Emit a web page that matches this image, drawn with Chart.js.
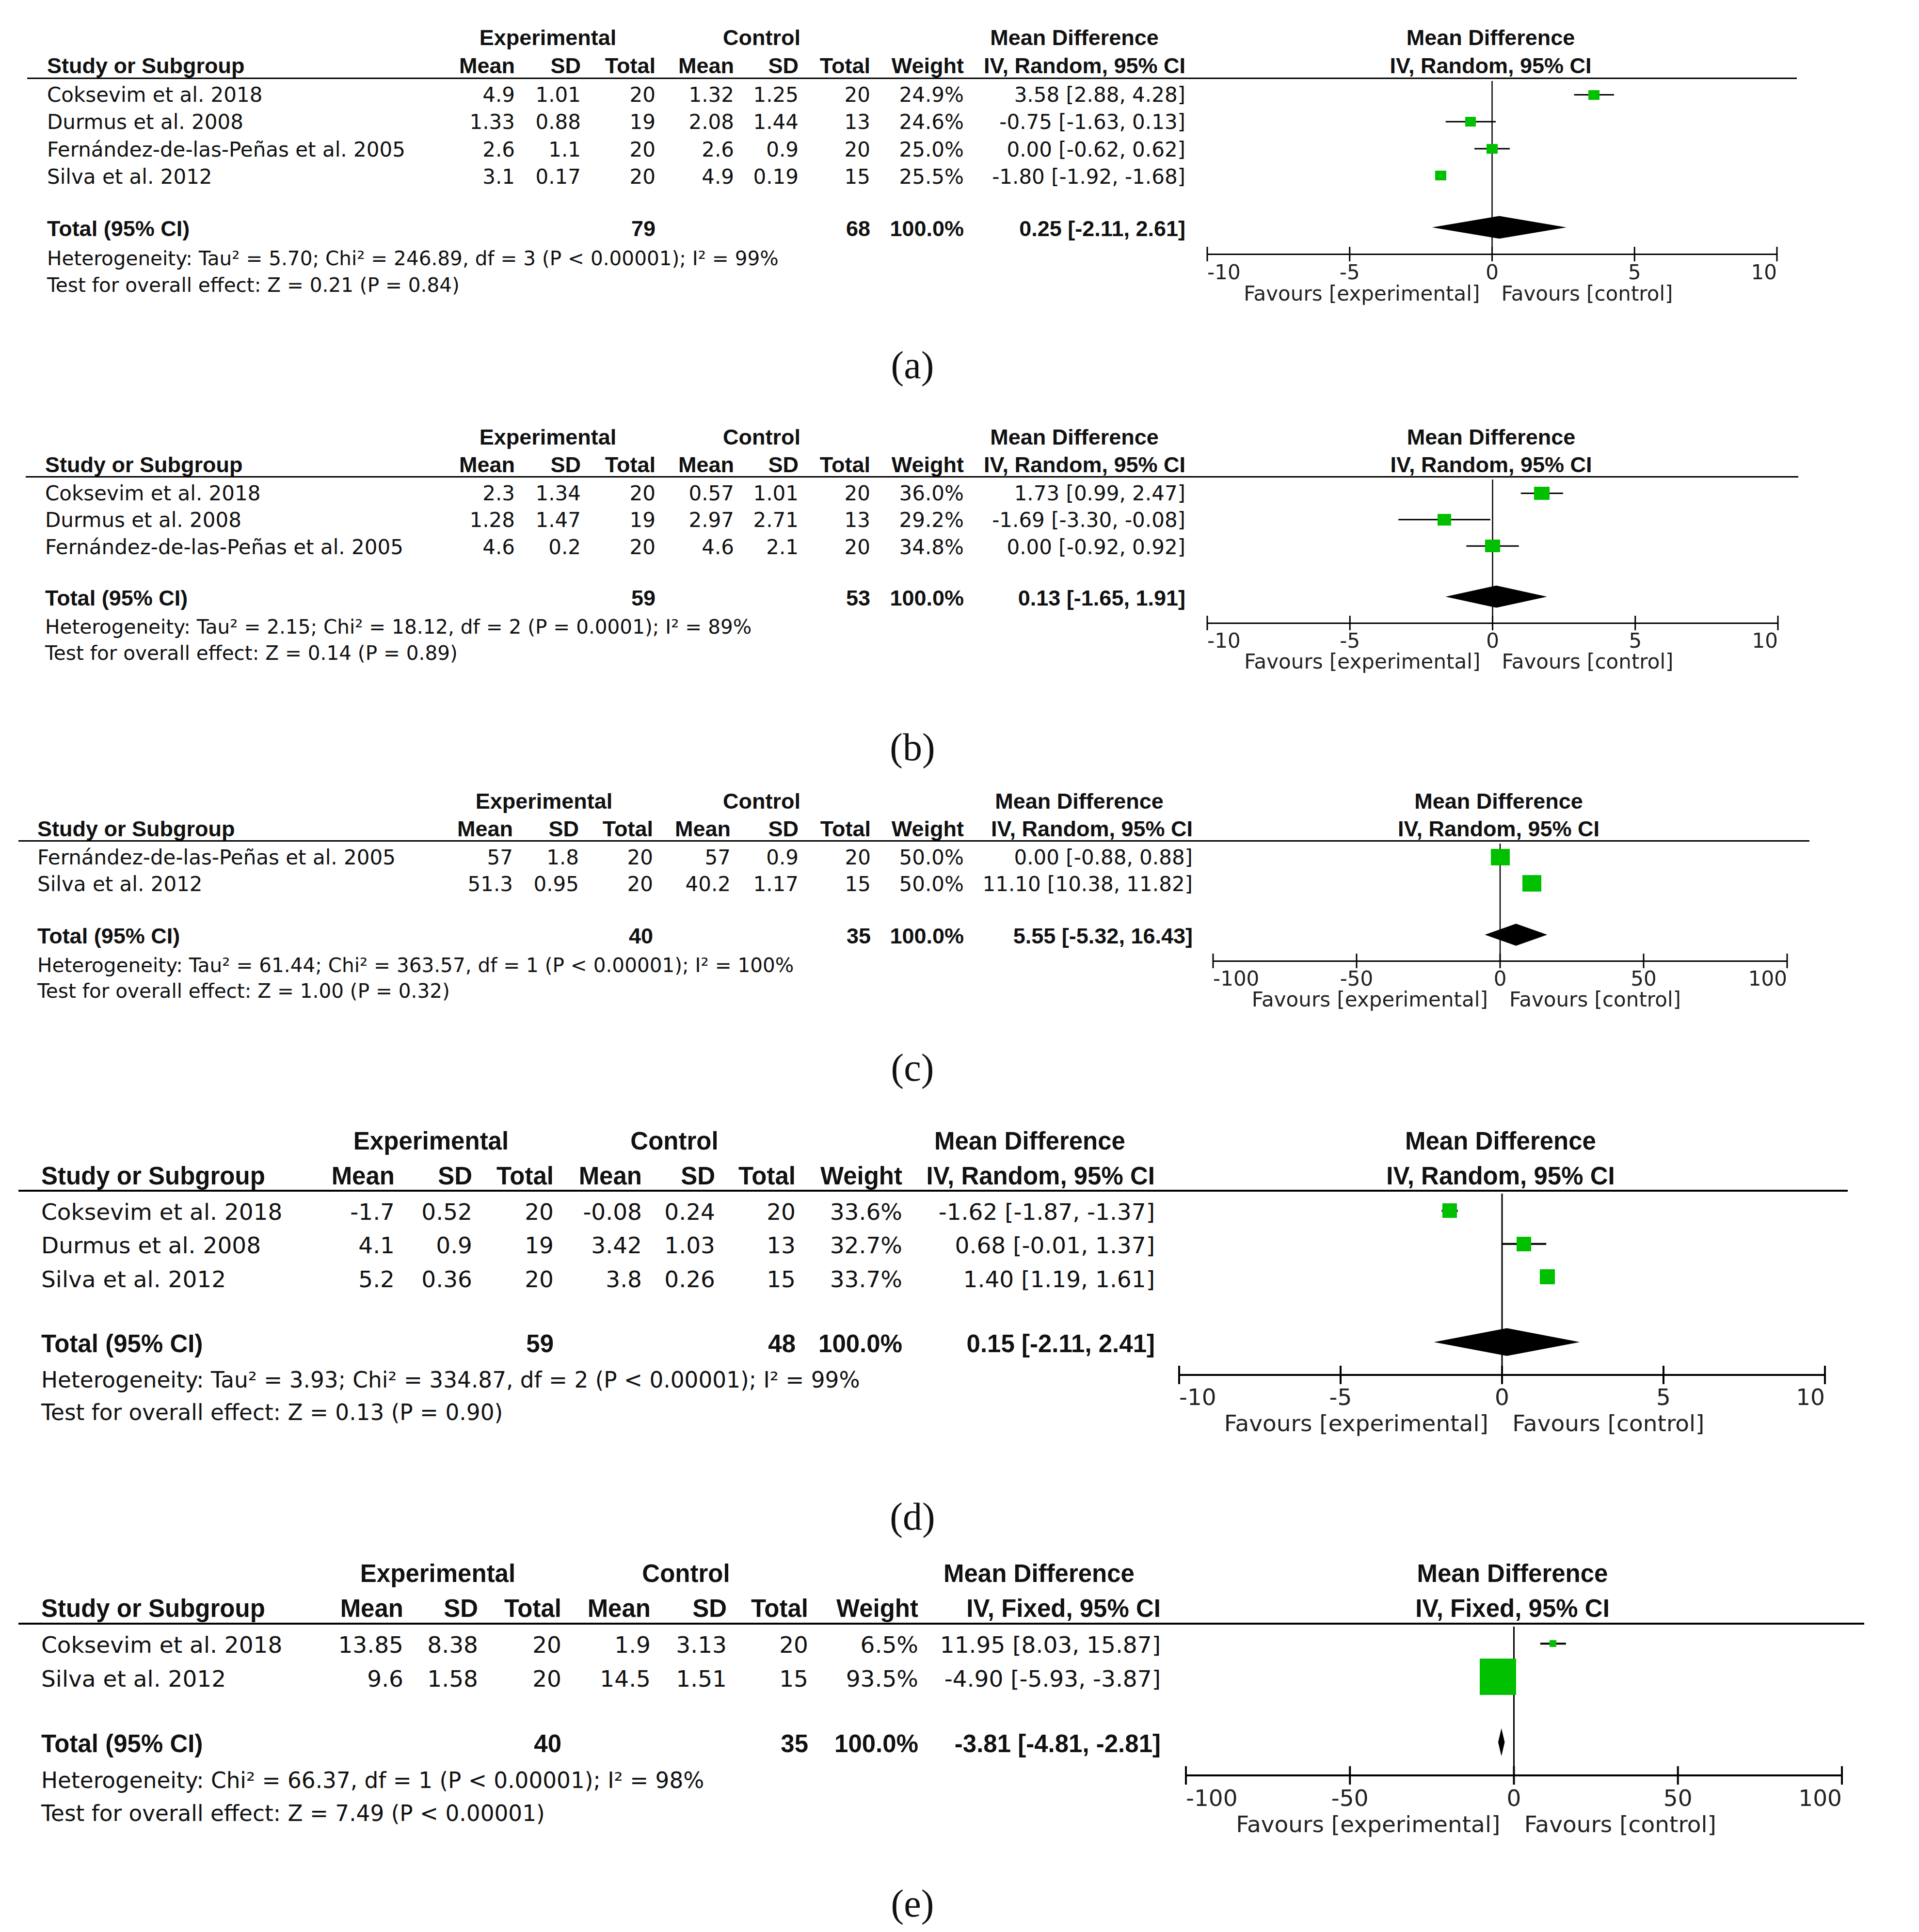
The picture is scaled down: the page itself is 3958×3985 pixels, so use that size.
<!DOCTYPE html>
<html>
<head>
<meta charset="utf-8">
<title>Forest plots (a)-(e)</title>
<script src="https://cdn.jsdelivr.net/npm/chart.js"></script>
<style>
  body { margin: 0; background: #fff; }
  #page { position: relative; width: 3958px; height: 3985px; overflow: hidden; color: #111; }
  .t { position: absolute; white-space: nowrap; line-height: 1; font-family: "DejaVu Sans", sans-serif; }
  .b { font-family: "Liberation Sans", Arial, sans-serif; font-weight: bold; }
  .cap { font-family: "Liberation Serif", serif; }
  .rule { position: absolute; background: #000; }
  canvas { position: absolute; }
</style>
</head>
<body>
<div id="page"></div>
<script>
// ---------- data (a) ----------
const aStudy = ["Coksevim et al. 2018", "Durmus et al. 2008", "Fernández-de-las-Peñas et al. 2005", "Silva et al. 2012"];
const aExpMean = [4.9, 1.33, 2.6, 3.1];
const aExpSD = [1.01, 0.88, 1.1, 0.17];
const aExpN = [20, 19, 20, 20];
const aCtlMean = [1.32, 2.08, 2.6, 4.9];
const aCtlSD = [1.25, 1.44, 0.9, 0.19];
const aCtlN = [20, 13, 20, 15];
const aWeight = [24.9, 24.6, 25.0, 25.5];
const aMD = [3.58, -0.75, 0.00, -1.80];
const aLow = [2.88, -1.63, -0.62, -1.92];
const aHigh = [4.28, 0.13, 0.62, -1.68];
const aTotalN = [79, 68];
const aPooled = [0.25, -2.11, 2.61];
const aHet = "Heterogeneity: Tau² = 5.70; Chi² = 246.89, df = 3 (P < 0.00001); I² = 99%";
const aTest = "Test for overall effect: Z = 0.21 (P = 0.84)";

// ---------- data (b) ----------
const bStudy = ["Coksevim et al. 2018", "Durmus et al. 2008", "Fernández-de-las-Peñas et al. 2005"];
const bExpMean = [2.3, 1.28, 4.6];
const bExpSD = [1.34, 1.47, 0.2];
const bExpN = [20, 19, 20];
const bCtlMean = [0.57, 2.97, 4.6];
const bCtlSD = [1.01, 2.71, 2.1];
const bCtlN = [20, 13, 20];
const bWeight = [36.0, 29.2, 34.8];
const bMD = [1.73, -1.69, 0.00];
const bLow = [0.99, -3.30, -0.92];
const bHigh = [2.47, -0.08, 0.92];
const bTotalN = [59, 53];
const bPooled = [0.13, -1.65, 1.91];
const bHet = "Heterogeneity: Tau² = 2.15; Chi² = 18.12, df = 2 (P = 0.0001); I² = 89%";
const bTest = "Test for overall effect: Z = 0.14 (P = 0.89)";

// ---------- data (c) ----------
const cStudy = ["Fernández-de-las-Peñas et al. 2005", "Silva et al. 2012"];
const cExpMean = [57, 51.3];
const cExpSD = [1.8, 0.95];
const cExpN = [20, 20];
const cCtlMean = [57, 40.2];
const cCtlSD = [0.9, 1.17];
const cCtlN = [20, 15];
const cWeight = [50.0, 50.0];
const cMD = [0.00, 11.10];
const cLow = [-0.88, 10.38];
const cHigh = [0.88, 11.82];
const cTotalN = [40, 35];
const cPooled = [5.55, -5.32, 16.43];
const cHet = "Heterogeneity: Tau² = 61.44; Chi² = 363.57, df = 1 (P < 0.00001); I² = 100%";
const cTest = "Test for overall effect: Z = 1.00 (P = 0.32)";

// ---------- data (d) ----------
const dStudy = ["Coksevim et al. 2018", "Durmus et al. 2008", "Silva et al. 2012"];
const dExpMean = [-1.7, 4.1, 5.2];
const dExpSD = [0.52, 0.9, 0.36];
const dExpN = [20, 19, 20];
const dCtlMean = [-0.08, 3.42, 3.8];
const dCtlSD = [0.24, 1.03, 0.26];
const dCtlN = [20, 13, 15];
const dWeight = [33.6, 32.7, 33.7];
const dMD = [-1.62, 0.68, 1.40];
const dLow = [-1.87, -0.01, 1.19];
const dHigh = [-1.37, 1.37, 1.61];
const dTotalN = [59, 48];
const dPooled = [0.15, -2.11, 2.41];
const dHet = "Heterogeneity: Tau² = 3.93; Chi² = 334.87, df = 2 (P < 0.00001); I² = 99%";
const dTest = "Test for overall effect: Z = 0.13 (P = 0.90)";

// ---------- data (e) ----------
const eStudy = ["Coksevim et al. 2018", "Silva et al. 2012"];
const eExpMean = [13.85, 9.6];
const eExpSD = [8.38, 1.58];
const eExpN = [20, 20];
const eCtlMean = [1.9, 14.5];
const eCtlSD = [3.13, 1.51];
const eCtlN = [20, 15];
const eWeight = [6.5, 93.5];
const eMD = [11.95, -4.90];
const eLow = [8.03, -5.93];
const eHigh = [15.87, -3.87];
const eTotalN = [40, 35];
const ePooled = [-3.81, -4.81, -2.81];
const eHet = "Heterogeneity: Chi² = 66.37, df = 1 (P < 0.00001); I² = 98%";
const eTest = "Test for overall effect: Z = 7.49 (P < 0.00001)";

// axis ticks
const ticks10 = [-10, -5, 0, 5, 10];
const ticks100 = [-100, -50, 0, 50, 100];

const panels = [
  { tag: "(a)", study: aStudy, expMean: aExpMean, expSD: aExpSD, expN: aExpN, ctlMean: aCtlMean, ctlSD: aCtlSD, ctlN: aCtlN,
    weight: aWeight, md: aMD, low: aLow, high: aHigh, totalN: aTotalN, pooled: aPooled, het: aHet, test: aTest,
    method: "IV, Random, 95% CI", ticks: ticks10 },
  { tag: "(b)", study: bStudy, expMean: bExpMean, expSD: bExpSD, expN: bExpN, ctlMean: bCtlMean, ctlSD: bCtlSD, ctlN: bCtlN,
    weight: bWeight, md: bMD, low: bLow, high: bHigh, totalN: bTotalN, pooled: bPooled, het: bHet, test: bTest,
    method: "IV, Random, 95% CI", ticks: ticks10 },
  { tag: "(c)", study: cStudy, expMean: cExpMean, expSD: cExpSD, expN: cExpN, ctlMean: cCtlMean, ctlSD: cCtlSD, ctlN: cCtlN,
    weight: cWeight, md: cMD, low: cLow, high: cHigh, totalN: cTotalN, pooled: cPooled, het: cHet, test: cTest,
    method: "IV, Random, 95% CI", ticks: ticks100 },
  { tag: "(d)", study: dStudy, expMean: dExpMean, expSD: dExpSD, expN: dExpN, ctlMean: dCtlMean, ctlSD: dCtlSD, ctlN: dCtlN,
    weight: dWeight, md: dMD, low: dLow, high: dHigh, totalN: dTotalN, pooled: dPooled, het: dHet, test: dTest,
    method: "IV, Random, 95% CI", ticks: ticks10 },
  { tag: "(e)", study: eStudy, expMean: eExpMean, expSD: eExpSD, expN: eExpN, ctlMean: eCtlMean, ctlSD: eCtlSD, ctlN: eCtlN,
    weight: eWeight, md: eMD, low: eLow, high: eHigh, totalN: eTotalN, pooled: ePooled, het: eHet, test: eTest,
    method: "IV, Fixed, 95% CI", ticks: ticks100 }
];

// page layout (pixels) for each panel
const colsAB = [1062, 1198, 1352, 1514, 1647, 1795, 1988, 2445];
const layout = [
  { fs: 42, fsb: 45, row0: 190, rowH: 56.5, gap: 1.92, studyX: 97, cols: colsAB, exp: 1130, ctl: 1571, md: 2216,
    rule: [56, 3706], plot: [2490, 3665], box: 20, aspect: 1.15, lw: 3, zw: 2.5, tick: 15, capY: 761 },
  { fs: 42, fsb: 45, row0: 1012, rowH: 55.5, gap: 1.92, studyX: 93, cols: colsAB, exp: 1130, ctl: 1571, md: 2216,
    rule: [53, 3709], plot: [2490, 3667], box: 27, aspect: 1.17, lw: 3, zw: 2.5, tick: 15, capY: 1549 },
  { fs: 42, fsb: 45, row0: 1763, rowH: 55.5, gap: 1.95, studyX: 77, cols: [1058, 1194, 1347, 1507, 1647, 1796, 1988, 2460],
    exp: 1122, ctl: 1571, md: 2226, rule: [38, 3732], plot: [2502, 3686], box: 34, aspect: 1.15, lw: 3, zw: 2.5, tick: 15, capY: 2210 },
  { fs: 47, fsb: 51, row0: 2492, rowH: 69.3, gap: 1.97, studyX: 85, cols: [814, 974, 1142, 1324, 1475, 1641, 1861, 2382],
    exp: 889, ctl: 1391, md: 2124, rule: [38, 3811], plot: [2432, 3764], box: 30.5, aspect: 1.0, lw: 4, zw: 3, tick: 19, capY: 3136 },
  { fs: 47, fsb: 51, row0: 3385, rowH: 70, gap: 1.96, studyX: 85, cols: [832, 986, 1158, 1342, 1499, 1667, 1894, 2394],
    exp: 903, ctl: 1415, md: 2143, rule: [38, 3845], plot: [2446, 3799], box: 75, aspect: 1.0, lw: 4, zw: 3, tick: 19, capY: 3934 }
];

const page = document.getElementById('page');

function put(x, y, s, align, size, bold, cls) {
  const el = document.createElement('div');
  el.className = 't' + (bold ? ' b' : '') + (cls ? ' ' + cls : '');
  el.textContent = s;
  el.style.left = x + 'px';
  el.style.top = y + 'px';
  el.style.fontSize = size + 'px';
  const tx = align === 'r' ? '-100%' : align === 'c' ? '-50%' : '0';
  el.style.transform = 'translate(' + tx + ', -50%)';
  page.appendChild(el);
}

function rule(x, y, w, h) {
  const el = document.createElement('div');
  el.className = 'rule';
  el.style.left = x + 'px';
  el.style.top = y + 'px';
  el.style.width = w + 'px';
  el.style.height = h + 'px';
  page.appendChild(el);
}

function ci(m, lo, hi) {
  return m.toFixed(2) + ' [' + lo.toFixed(2) + ', ' + hi.toFixed(2) + ']';
}

function makeBox(w, h) {
  const c = document.createElement('canvas');
  c.width = Math.max(1, Math.round(w));
  c.height = Math.max(1, Math.round(h));
  const g = c.getContext('2d');
  g.fillStyle = '#00c000';
  g.fillRect(0, 0, c.width, c.height);
  return c;
}

const forestPlugin = {
  id: 'forest',
  beforeDatasetsDraw(chart, args, o) {
    const { ctx, chartArea: a, scales: { x } } = chart;
    const x0 = x.getPixelForValue(0);
    ctx.save();
    ctx.strokeStyle = '#000';
    ctx.lineWidth = o.zeroW;
    ctx.beginPath();
    ctx.moveTo(x0, a.top);
    ctx.lineTo(x0, a.bottom);
    ctx.stroke();
    ctx.restore();
  },
  afterDatasetsDraw(chart, args, o) {
    const { ctx, scales: { x, y } } = chart;
    const [m, lo, hi] = o.pooled;
    const yc = y.getPixelForValue(o.row);
    const hh = Math.abs(y.getPixelForValue(o.row + o.half) - yc);
    ctx.save();
    ctx.fillStyle = '#000';
    ctx.beginPath();
    ctx.moveTo(x.getPixelForValue(lo), yc);
    ctx.lineTo(x.getPixelForValue(m), yc - hh);
    ctx.lineTo(x.getPixelForValue(hi), yc);
    ctx.lineTo(x.getPixelForValue(m), yc + hh);
    ctx.closePath();
    ctx.fill();
    ctx.restore();
  },
  afterDraw(chart, args, o) {
    const { ctx, chartArea: a, scales: { x } } = chart;
    ctx.save();
    ctx.strokeStyle = '#000';
    ctx.lineWidth = o.axisW;
    x.ticks.forEach(t => {
      const px = x.getPixelForValue(t.value);
      ctx.beginPath();
      ctx.moveTo(px, a.bottom - o.tick);
      ctx.lineTo(px, a.bottom + o.tick);
      ctx.stroke();
    });
    const x0 = x.getPixelForValue(0);
    const fy = a.bottom + o.favY;
    ctx.fillStyle = '#222';
    ctx.font = o.fs + 'px "DejaVu Sans"';
    ctx.textBaseline = 'middle';
    ctx.textAlign = 'right';
    ctx.fillText('Favours [experimental]', x0 - 0.6 * o.fs, fy);
    ctx.textAlign = 'left';
    ctx.fillText('Favours [control]', x0 + 0.45 * o.fs, fy);
    ctx.restore();
  }
};

function drawPanel(p, L) {
  const n = p.study.length;
  const fs = L.fs, fsb = L.fsb;
  const rowY = i => L.row0 + i * L.rowH;
  const totRow = n - 1 + L.gap;
  const totY = rowY(totRow);
  const axisY = Math.round(totY + 1.0 * L.rowH);
  const lineY = Math.round(L.row0 - 0.52 * L.rowH);
  const off = 0.1 * L.rowH;
  const tks = p.ticks;
  const xmin = tks[0], xmax = tks[tks.length - 1];
  const zeroX = L.plot[0] + (L.plot[1] - L.plot[0]) * (0 - xmin) / (xmax - xmin);

  // header
  const h1 = L.row0 - 2.0 * L.rowH, h2 = L.row0 - 0.97 * L.rowH;
  put(L.exp, h1, 'Experimental', 'c', fsb, true);
  put(L.ctl, h1, 'Control', 'c', fsb, true);
  put(L.md, h1, 'Mean Difference', 'c', fsb, true);
  put(zeroX - 3, h1, 'Mean Difference', 'c', fsb, true);
  put(L.studyX, h2, 'Study or Subgroup', 'l', fsb, true);
  ['Mean', 'SD', 'Total', 'Mean', 'SD', 'Total', 'Weight', p.method].forEach((s, k) => put(L.cols[k], h2, s, 'r', fsb, true));
  put(zeroX - 3, h2, p.method, 'c', fsb, true);
  rule(L.rule[0], lineY - L.lw / 2, L.rule[1] - L.rule[0], L.lw);

  // study rows
  p.study.forEach((s, i) => {
    const ty = rowY(i) + off;
    put(L.studyX, ty, s, 'l', fs);
    const cells = [p.expMean[i], p.expSD[i], p.expN[i], p.ctlMean[i], p.ctlSD[i], p.ctlN[i],
      p.weight[i].toFixed(1) + '%', ci(p.md[i], p.low[i], p.high[i])];
    cells.forEach((c, k) => put(L.cols[k], ty, String(c), 'r', fs));
  });

  // total row and footer
  const tt = totY + off * 0.6;
  const wsum = p.weight.reduce((s, w) => s + w, 0);
  put(L.studyX, tt, 'Total (95% CI)', 'l', fsb, true);
  put(L.cols[2], tt, String(p.totalN[0]), 'r', fsb, true);
  put(L.cols[5], tt, String(p.totalN[1]), 'r', fsb, true);
  put(L.cols[6], tt, wsum.toFixed(1) + '%', 'r', fsb, true);
  put(L.cols[7], tt, ci(p.pooled[0], p.pooled[1], p.pooled[2]), 'r', fsb, true);
  put(L.studyX, totY + 1.15 * L.rowH, p.het, 'l', fs * 0.965);
  put(L.studyX, totY + 2.12 * L.rowH, p.test, 'l', fs * 0.965);

  put(1882, L.capY - 8, p.tag, 'c', 80, false, 'cap');

  // forest plot
  const padX = 14;
  const W = L.plot[1] - L.plot[0];
  const bottomH = Math.round(2.2 * L.rowH);
  const cv = document.createElement('canvas');
  cv.width = W + 2 * padX;
  cv.height = axisY - lineY + bottomH;
  cv.style.left = (L.plot[0] - padX) + 'px';
  cv.style.top = lineY + 'px';
  page.appendChild(cv);

  const wmax = Math.max(...p.weight);
  const boxes = p.weight.map(w => {
    const h = L.box * Math.pow(w / wmax, 0.64);
    return makeBox(h * L.aspect, h);
  });

  const datasets = [{
    data: p.md.map((m, i) => ({ x: m, y: i })),
    pointStyle: boxes,
    pointRadius: 5,
    showLine: false,
    order: 0
  }];
  p.md.forEach((m, i) => {
    datasets.push({
      data: [{ x: p.low[i], y: i }, { x: p.high[i], y: i }],
      showLine: true,
      borderColor: '#000',
      borderWidth: L.lw,
      pointRadius: 0,
      order: 1
    });
  });

  new Chart(cv, {
    type: 'scatter',
    data: { datasets },
    plugins: [forestPlugin],
    options: {
      responsive: false,
      animation: false,
      events: [],
      layout: { padding: { left: padX, right: padX, top: 0, bottom: 0 } },
      plugins: {
        legend: { display: false },
        tooltip: { enabled: false },
        forest: { pooled: p.pooled, row: totRow, half: 0.42, zeroW: L.zw, axisW: L.lw, tick: L.tick,
          fs: fs, favY: 1.5 * L.rowH }
      },
      scales: {
        x: {
          type: 'linear',
          min: xmin,
          max: xmax,
          afterBuildTicks: s => { s.ticks = tks.map(v => ({ value: v })); },
          afterFit: s => { s.height = bottomH; },
          ticks: {
            align: 'inner',
            autoSkip: false,
            maxRotation: 0,
            padding: 0,
            color: '#222',
            font: { family: 'DejaVu Sans', size: fs, lineHeight: 1 },
            callback: v => String(v)
          },
          grid: { display: true, drawOnChartArea: false, drawTicks: true,
            tickLength: Math.max(0, 0.72 * L.rowH - fs / 2), color: 'rgba(0,0,0,0)' },
          border: { display: true, color: '#000', width: L.lw }
        },
        y: {
          type: 'linear',
          display: false,
          reverse: true,
          min: (lineY - L.row0) / L.rowH,
          max: (axisY - L.row0) / L.rowH
        }
      }
    }
  });
}

panels.forEach((p, k) => drawPanel(p, layout[k]));
</script>
</body>
</html>
